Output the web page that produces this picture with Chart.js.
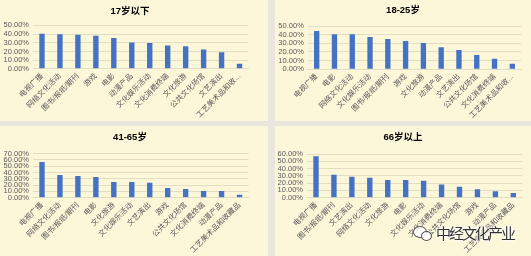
<!DOCTYPE html>
<html>
<head>
<meta charset="utf-8">
<script src="https://cdn.jsdelivr.net/npm/chart.js@4/dist/chart.umd.min.js"></script>
<style>
  body { margin: 0; background: #ebe5df; }
  #page { position: relative; width: 531px; height: 256px; overflow: hidden; background: #ebe5df; }
  .panel { position: absolute; background: #fdf7da; }
  .panel canvas { position: absolute; left: 0; top: 0; }
  #mark { position: absolute; left: 436px; top: 222px; font: 15px "Noto Sans CJK SC", sans-serif; letter-spacing: -2px;
          color: #333; text-shadow: 0 0 2px #fff, 0 0 2px #fff, 0 0 3px #fff; white-space: nowrap; }
  .bub { position: absolute; border: 1.5px solid #555; border-radius: 50%; background: rgba(255,255,255,0.85); }
</style>
</head>
<body>
<div id="page">
  <div class="panel" style="left:0;top:0;width:268px;height:121px"><canvas id="c1" width="268" height="121"></canvas></div>
  <div class="panel" style="left:275px;top:0;width:256px;height:121px"><canvas id="c2" width="256" height="121"></canvas></div>
  <div class="panel" style="left:0;top:126px;width:268px;height:130px"><canvas id="c3" width="268" height="130"></canvas></div>
  <div class="panel" style="left:275px;top:126px;width:256px;height:130px"><canvas id="c4" width="256" height="130"></canvas></div>
  <div class="bub" style="left:413px;top:226px;width:12px;height:10px"></div>
  <div class="bub" style="left:421px;top:231px;width:9px;height:8px"></div>
  <div id="mark">中经文化产业</div>
</div>
<script>
// 17岁以下
const labels1 = ['电视广播', '网络文化活动', '图书/报纸/期刊', '游戏', '电影', '动漫产品', '文化娱乐活动', '文化消费终端', '文化旅游', '公共文化场馆', '文艺演出', '工艺美术品和收...'];
const values1 = [40.5, 39.7, 39.3, 38.2, 35.5, 30.2, 29.8, 26.7, 26.0, 22.1, 19.1, 5.8];

// 18-25岁
const labels2 = ['电视广播', '电影', '网络文化活动', '文化娱乐活动', '图书/报纸/期刊', '游戏', '文化旅游', '动漫产品', '文艺演出', '公共文化场馆', '文化消费终端', '工艺美术品和收...'];
const values2 = [44.2, 40.4, 40.4, 37.3, 35.0, 32.7, 30.4, 25.4, 22.3, 16.5, 12.3, 6.5];

// 41-65岁
const labels3 = ['电视广播', '网络文化活动', '图书/报纸/期刊', '电影', '文化旅游', '文化娱乐活动', '文艺演出', '游戏', '公共文化场馆', '文化消费终端', '动漫产品', '工艺美术品和收藏品'];
const values3 = [56.6, 36.0, 34.4, 32.8, 24.9, 24.9, 23.8, 15.3, 13.8, 10.6, 10.6, 4.8];

// 66岁以上
const labels4 = ['电视广播', '图书/报纸/期刊', '文艺演出', '网络文化活动', '文化旅游', '电影', '文化娱乐活动', '文化消费终端', '公共文化场馆', '游戏', '动漫产品', '工艺美术品和收藏品'];
const values4 = [56.8, 31.5, 28.8, 27.5, 24.3, 24.3, 23.4, 18.0, 14.9, 11.7, 9.0, 6.3];

const barColor = '#4472c4';
const gridColor = '#e4ddc3';
const textColor = '#595959';
const fontFamily = '"Liberation Sans", "Noto Sans CJK SC", sans-serif';

// title drawn at a fixed spot, Excel doesn't centre it on the plot
const panelTitle = {
    id: 'panelTitle',
    afterDraw(chart) {
        const t = chart.options.plugins.panelTitle;
        const ctx = chart.ctx;
        ctx.save();
        ctx.font = 'bold 9.5px ' + fontFamily;
        ctx.fillStyle = '#000';
        ctx.textAlign = 'center';
        ctx.textBaseline = 'middle';
        ctx.fillText(t.text, t.cx, t.cy);
        ctx.restore();
    }
};

// g: canvas w/h, title centre (cx, cy), chart area edges
function makeChart(id, title, labels, values, yMax, g) {
    new Chart(document.getElementById(id), {
        type: 'bar',
        data: {
            labels: labels,
            datasets: [{
                data: values,
                backgroundColor: barColor,
                categoryPercentage: 1,
                barPercentage: 0.3
            }]
        },
        options: {
            responsive: false,
            animation: false,
            devicePixelRatio: 1,
            layout: { padding: { left: 0, right: g.w - g.right, top: g.top, bottom: 0 } },
            plugins: {
                legend: { display: false },
                tooltip: { enabled: false },
                title: { display: false },
                panelTitle: { text: title, cx: g.cx, cy: g.cy }
            },
            scales: {
                x: {
                    grid: { display: false, drawTicks: false },
                    border: { display: true, color: gridColor },
                    ticks: {
                        color: textColor,
                        font: { family: fontFamily, size: 7.5 },
                        minRotation: 45,
                        maxRotation: 45,
                        autoSkip: false,
                        padding: 3
                    },
                    afterFit: function(scale) { scale.height = g.h - g.bottom; }
                },
                y: {
                    min: 0,
                    max: yMax,
                    grid: { color: gridColor, drawTicks: false },
                    border: { display: false },
                    ticks: {
                        stepSize: 10,
                        autoSkip: false,
                        color: textColor,
                        font: { family: fontFamily, size: 7.5 },
                        padding: 4,
                        callback: function(value) { return value.toFixed(2) + '%'; }
                    },
                    afterFit: function(scale) { scale.width = g.left; }
                }
            }
        },
        plugins: [panelTitle]
    });
}

makeChart('c1', '17岁以下', labels1, values1, 50,
    { w: 268, h: 121, cx: 130, cy: 11, left: 33, right: 248.5, top: 25.4, bottom: 68.8 });
makeChart('c2', '18-25岁', labels2, values2, 50,
    { w: 256, h: 121, cx: 128, cy: 10.7, left: 32.8, right: 246.2, top: 26, bottom: 69.3 });
makeChart('c3', '41-65岁', labels3, values3, 70,
    { w: 268, h: 130, cx: 130, cy: 11.7, left: 33, right: 248.5, top: 27.7, bottom: 71.7 });
makeChart('c4', '66岁以上', labels4, values4, 60,
    { w: 256, h: 130, cx: 128, cy: 11.7, left: 32, right: 247.3, top: 28, bottom: 71.7 });
</script>
</body>
</html>
